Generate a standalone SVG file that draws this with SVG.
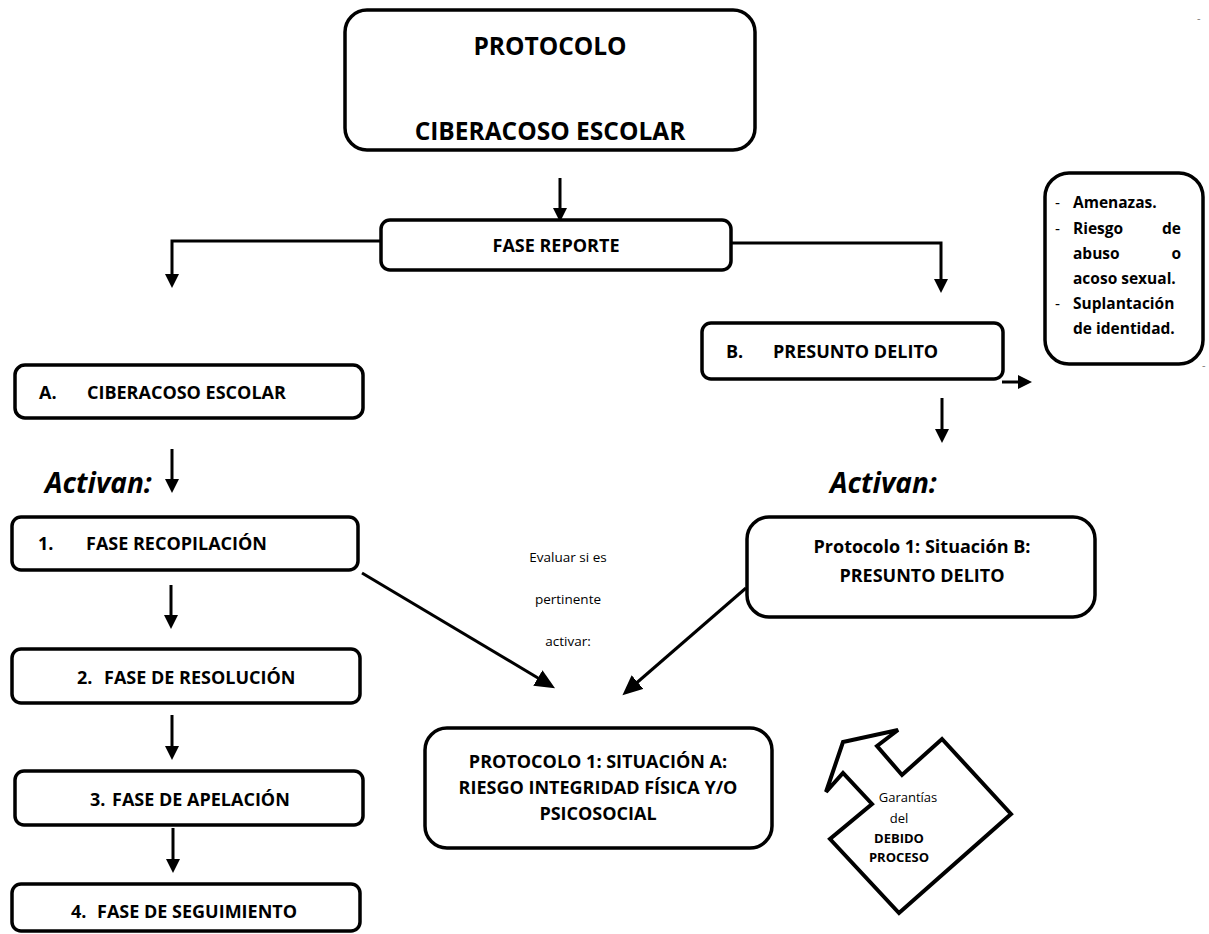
<svg xmlns="http://www.w3.org/2000/svg" width="1209" height="934" viewBox="0 0 1209 934">
<style>
.bx{fill:#fff;stroke:#000;stroke-width:3.5}
.t{font-family:"Open Sans","Noto Sans",sans-serif;font-weight:bold;font-size:18px;fill:#000}
.big{font-size:24.5px}
.sm{font-family:"Open Sans","Noto Sans",sans-serif;font-size:13.5px;fill:#000}
.g{font-family:"Open Sans","Noto Sans",sans-serif;font-size:13px;fill:#000}
.act{font-family:"Open Sans","Noto Sans",sans-serif;font-weight:bold;font-style:italic;font-size:28px;fill:#000}
.am{font-family:"Open Sans","Noto Sans",sans-serif;font-weight:bold;font-size:15.5px;fill:#000}
.dash{font-family:"Open Sans","Noto Sans",sans-serif;font-size:15.5px;fill:#000}
.c{stroke:#000;stroke-width:3;fill:none}
</style>
<defs>
<marker id="ah" markerUnits="userSpaceOnUse" markerWidth="16" markerHeight="16" refX="4" refY="7" orient="auto">
<path d="M0,0 L14,7 L0,14 z" fill="#000"/>
</marker>
<marker id="ahl" markerUnits="userSpaceOnUse" markerWidth="22" markerHeight="22" refX="6" refY="9" orient="auto">
<path d="M0,0 L20,9 L0,18 z" fill="#000"/>
</marker>
</defs>

<g id="connectors">
<line class="c" x1="560" y1="178" x2="560" y2="212" marker-end="url(#ah)"/>
<polyline class="c" points="381,241 172,241 172,278" marker-end="url(#ah)"/>
<polyline class="c" points="731,243 941,243 941,283" marker-end="url(#ah)"/>
<line class="c" x1="1002" y1="382" x2="1022" y2="382" marker-end="url(#ah)"/>
<line class="c" x1="942" y1="398" x2="942" y2="433" marker-end="url(#ah)"/>
<line class="c" x1="172" y1="449" x2="172" y2="483" marker-end="url(#ah)"/>
<line class="c" x1="171" y1="585" x2="171" y2="619" marker-end="url(#ah)"/>
<line class="c" x1="172" y1="715" x2="172" y2="750" marker-end="url(#ah)"/>
<line class="c" x1="173" y1="828" x2="173" y2="863" marker-end="url(#ah)"/>
<line class="c" x1="362" y1="573" x2="543" y2="681" marker-end="url(#ahl)"/>
<line class="c" x1="746" y1="588" x2="633" y2="686" marker-end="url(#ahl)"/>
</g>

<g id="n-protocolo">
<rect class="bx" x="345" y="10" width="410" height="140" rx="22"/>
<text class="t big" x="550" y="55" text-anchor="middle">PROTOCOLO</text>
<text class="t big" x="550" y="140" text-anchor="middle">CIBERACOSO ESCOLAR</text>
</g>

<g id="n-reporte">
<rect class="bx" x="381" y="220" width="350" height="50" rx="9"/>
<text class="t" x="556" y="252" text-anchor="middle">FASE REPORTE</text>
</g>

<g id="n-amenazas">
<rect class="bx" x="1045" y="173" width="158" height="191" rx="24"/>
<text class="dash" x="1055" y="208">-</text>
<text class="am" x="1073" y="208">Amenazas.</text>
<text class="dash" x="1055" y="234">-</text>
<text class="am" x="1073" y="234">Riesgo</text>
<text class="am" x="1181" y="234" text-anchor="end">de</text>
<text class="am" x="1073" y="259">abuso</text>
<text class="am" x="1181" y="259" text-anchor="end">o</text>
<text class="am" x="1073" y="284">acoso sexual.</text>
<text class="dash" x="1055" y="309">-</text>
<text class="am" x="1073" y="309">Suplantación</text>
<text class="am" x="1073" y="334">de identidad.</text>
</g>
<text x="1197" y="22" style="font-family:'Open Sans',sans-serif;font-size:11px;fill:#777">-</text>
<text x="1202" y="369" style="font-family:'Open Sans',sans-serif;font-size:11px;fill:#777">-</text>

<g id="n-b">
<rect class="bx" x="702" y="323" width="301" height="56" rx="9"/>
<text class="t" x="726" y="358">B.</text>
<text class="t" x="773" y="358">PRESUNTO DELITO</text>
</g>

<g id="n-a">
<rect class="bx" x="15" y="365" width="348" height="53" rx="10"/>
<text class="t" x="39" y="399">A.</text>
<text class="t" x="87" y="399">CIBERACOSO ESCOLAR</text>
</g>

<text class="act" x="45" y="493">Activan:</text>
<text class="act" x="830" y="493">Activan:</text>

<g id="n-f1">
<rect class="bx" x="12" y="517" width="346" height="53" rx="9"/>
<text class="t" x="38" y="550">1.</text>
<text class="t" x="86" y="550">FASE RECOPILACIÓN</text>
</g>

<g id="n-f2">
<rect class="bx" x="12" y="649" width="348" height="54" rx="9"/>
<text class="t" x="77" y="684">2.</text>
<text class="t" x="104" y="684">FASE DE RESOLUCIÓN</text>
</g>

<g id="n-f3">
<rect class="bx" x="15" y="771" width="348" height="54" rx="9"/>
<text class="t" x="90" y="806">3.</text>
<text class="t" x="112" y="806">FASE DE APELACIÓN</text>
</g>

<g id="n-f4">
<rect class="bx" x="12" y="884" width="348" height="47" rx="9"/>
<text class="t" x="71" y="918">4.</text>
<text class="t" x="97" y="918">FASE DE SEGUIMIENTO</text>
</g>

<g id="n-evaluar">
<text class="sm" x="568" y="562" text-anchor="middle">Evaluar si es</text>
<text class="sm" x="568" y="604" text-anchor="middle">pertinente</text>
<text class="sm" x="568" y="646" text-anchor="middle">activar:</text>
</g>

<g id="n-protb">
<rect class="bx" x="747" y="517" width="348" height="100" rx="22"/>
<text class="t" x="922" y="553" text-anchor="middle">Protocolo 1: Situación B:</text>
<text class="t" x="922" y="582" text-anchor="middle">PRESUNTO DELITO</text>
</g>

<g id="n-prota">
<rect class="bx" x="425" y="728" width="347" height="120" rx="22"/>
<text class="t" x="598" y="768" text-anchor="middle">PROTOCOLO 1: SITUACIÓN A:</text>
<text class="t" x="598" y="794" text-anchor="middle">RIESGO INTEGRIDAD FÍSICA Y/O</text>
<text class="t" x="598" y="820" text-anchor="middle">PSICOSOCIAL</text>
</g>

<g id="n-garantias">
<polygon points="826,792 843,742 898,730 877,746 902,775 942,739 1011,814 899,913 830,839 872,804 843,773" fill="#fff" stroke="#000" stroke-width="4" stroke-linejoin="miter"/>
<text class="g" x="908" y="802" text-anchor="middle">Garantías</text>
<text class="g" x="899" y="823" text-anchor="middle">del</text>
<text class="g" x="899" y="843" text-anchor="middle" font-weight="bold">DEBIDO</text>
<text class="g" x="899" y="862" text-anchor="middle" font-weight="bold">PROCESO</text>
</g>
</svg>
